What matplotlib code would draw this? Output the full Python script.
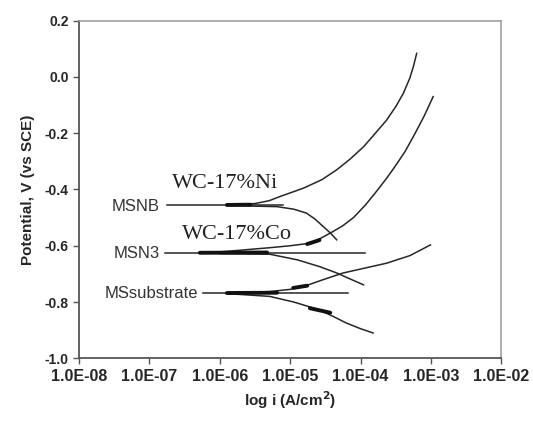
import matplotlib.pyplot as plt

# Tafel curves, current density in A/cm2, potential in V vs SCE
msnb_anodic_i = [1.26e-6, 3.16e-6, 5.0e-6, 7.16e-6, 1.55e-5, 2.82e-5, 4.57e-5, 7.08e-5,
                 1.10e-4, 1.58e-4, 2.34e-4, 3.16e-4, 4.04e-4, 5.01e-4, 5.62e-4, 6.25e-4]
msnb_anodic_e = [-0.455, -0.450, -0.440, -0.425, -0.395, -0.365, -0.330, -0.292,
                 -0.248, -0.203, -0.153, -0.105, -0.058, -0.003, 0.038, 0.084]
msnb_cathodic_i = [1.26e-6, 6.5e-6, 1.12e-5, 1.7e-5, 2.24e-5, 2.95e-5, 3.72e-5, 4.57e-5]
msnb_cathodic_e = [-0.457, -0.461, -0.470, -0.484, -0.505, -0.532, -0.555, -0.579]
msnb_flat_i = [1.78e-7, 7.9e-6]
msnb_flat_e = [-0.455, -0.455]

msn3_anodic_i = [1.0e-6, 5.1e-6, 1.0e-5, 1.9e-5, 2.63e-5, 3.7e-5, 5.5e-5, 7.9e-5,
                 1.17e-4, 1.7e-4, 2.34e-4, 3.2e-4, 4.27e-4, 5.6e-4, 7.94e-4, 1.07e-3]
msn3_anodic_e = [-0.622, -0.607, -0.600, -0.591, -0.575, -0.555, -0.530, -0.500,
                 -0.455, -0.405, -0.360, -0.312, -0.265, -0.212, -0.140, -0.070]
msn3_cathodic_i = [1.0e-6, 5.1e-6, 1.26e-5, 2.6e-5, 4.6e-5, 7.08e-5, 1.1e-4]
msn3_cathodic_e = [-0.628, -0.630, -0.650, -0.674, -0.697, -0.718, -0.739]
msn3_flat_i = [1.66e-7, 1.15e-4]
msn3_flat_e = [-0.626, -0.626]

sub_anodic_i = [1.26e-6, 5.1e-6, 1.0e-5, 1.55e-5, 2.82e-5, 5.6e-5, 1.12e-4, 2.34e-4,
                5.01e-4, 9.8e-4]
sub_anodic_e = [-0.768, -0.763, -0.755, -0.745, -0.722, -0.697, -0.680, -0.662,
                -0.635, -0.597]
sub_cathodic_i = [1.26e-6, 5.1e-6, 1.12e-5, 2.6e-5, 3.98e-5, 6.3e-5, 1.0e-4, 1.5e-4]
sub_cathodic_e = [-0.770, -0.780, -0.800, -0.828, -0.850, -0.875, -0.895, -0.910]
sub_flat_i = [5.75e-7, 6.6e-5]
sub_flat_e = [-0.768, -0.768]

# noisy thick stretches near the corrosion potential
blob_i = [[1.26e-6, 2.7e-6], [5.2e-7, 4.7e-6], [1.26e-6, 6.5e-6],
          [1.74e-5, 2.6e-5], [1.1e-5, 1.74e-5], [1.9e-5, 3.7e-5]]
blob_e = [[-0.455, -0.454], [-0.625, -0.624], [-0.768, -0.767],
          [-0.594, -0.580], [-0.750, -0.742], [-0.822, -0.838]]

x_ticks = [1e-8, 1e-7, 1e-6, 1e-5, 1e-4, 1e-3, 1e-2]
x_tick_labels = ["1.0E-08", "1.0E-07", "1.0E-06", "1.0E-05", "1.0E-04", "1.0E-03", "1.0E-02"]
y_ticks = [-1.0, -0.8, -0.6, -0.4, -0.2, 0.0, 0.2]

plt.rcParams["font.family"] = ["Liberation Sans", "DejaVu Sans"]

fig = plt.figure(figsize=(5.33, 4.23), dpi=100)
ax = fig.add_axes([0.1482, 0.1530, 0.7927, 0.7981])

line_kw = dict(color="#262626", linewidth=1.1)

for xs, ys in [
    (msnb_anodic_i, msnb_anodic_e),
    (msnb_cathodic_i, msnb_cathodic_e),
    (msnb_flat_i, msnb_flat_e),
    (msn3_anodic_i, msn3_anodic_e),
    (msn3_cathodic_i, msn3_cathodic_e),
    (msn3_flat_i, msn3_flat_e),
    (sub_anodic_i, sub_anodic_e),
    (sub_cathodic_i, sub_cathodic_e),
    (sub_flat_i, sub_flat_e),
]:
    ax.plot(xs, ys, **line_kw)

for xs, ys in zip(blob_i, blob_e):
    ax.plot(xs, ys, color="#111111", linewidth=2.8, solid_capstyle="round")

ax.set_xscale("log")
ax.set_xlim(1e-8, 1e-2)
ax.set_ylim(-1.0, 0.2)
ax.set_xticks(x_ticks)
ax.set_xticklabels(x_tick_labels)
ax.minorticks_off()
ax.set_yticks(y_ticks)
ax.set_yticklabels([f"{v:.1f}" for v in y_ticks])

ax.tick_params(direction="out", length=4, width=1, color="#555555", labelcolor="#262626")
for lab in ax.get_xticklabels():
    lab.set_fontsize(11.5)
    lab.set_fontweight("bold")
for lab in ax.get_yticklabels():
    lab.set_fontsize(10)
    lab.set_fontweight("bold")

for side in ["left", "bottom"]:
    ax.spines[side].set_color("#555555")
    ax.spines[side].set_linewidth(1.3)
for side in ["top", "right"]:
    ax.spines[side].set_color("#999999")
    ax.spines[side].set_linewidth(1.1)

ax.set_xlabel("log i (A/cm$^\\mathbf{2}$)", fontsize=11, fontweight="bold", color="#262626", labelpad=4)
ax.set_ylabel("Potential, V (vs SCE)", fontsize=11, fontweight="bold", color="#262626", labelpad=7)

label_kw = dict(fontsize=12, color="#333333", ha="right", va="center")
ax.text(1.41e-7, -0.461, "MSNB", **label_kw)
ax.text(1.41e-7, -0.626, "MSN3", **label_kw)
ax.text(4.9e-7, -0.768, "MSsubstrate", **label_kw)

serif_kw = dict(fontsize=16, family=["Liberation Serif", "DejaVu Serif"], color="#222222",
                ha="center", va="center")
ax.text(1.17e-6, -0.378, "WC-17%Ni", **serif_kw)
ax.text(1.74e-6, -0.561, "WC-17%Co", **serif_kw)

plt.savefig("out.png", dpi=100)
plt.close()
